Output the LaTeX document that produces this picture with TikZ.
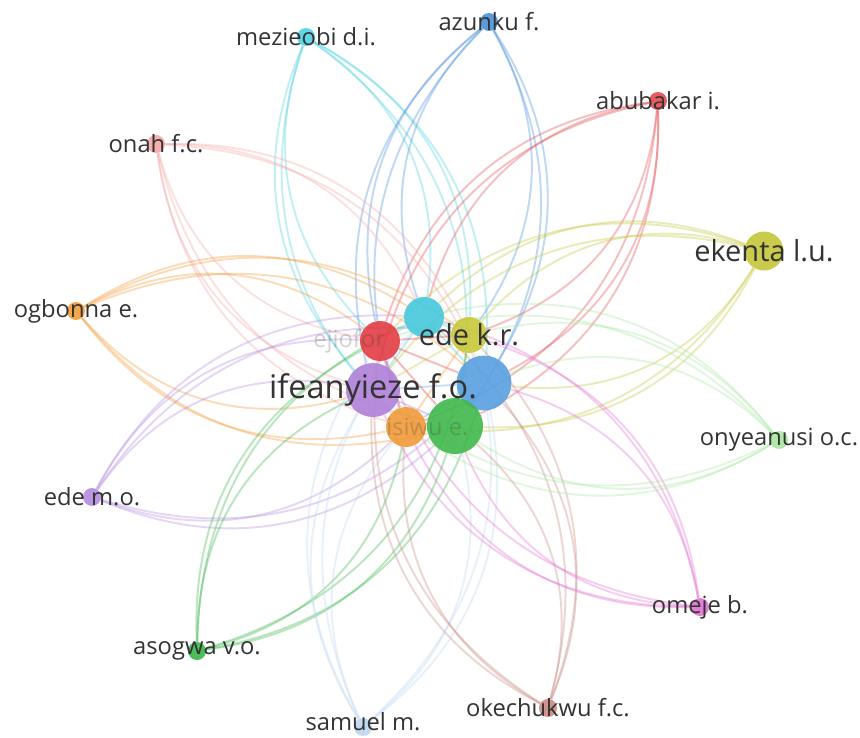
\documentclass[tikz,border=0pt]{standalone}
\usepackage{fontspec}
\setmainfont{Open Sans}
\usepackage{tikz}
\usetikzlibrary{positioning}
\pgfdeclarelayer{background}
\pgfsetlayers{background,main}
\definecolor{txtgray}{RGB}{51,51,51}
\definecolor{hcyan}{RGB}{70,200,220}
\definecolor{hred}{RGB}{226,60,66}
\definecolor{hyellow}{RGB}{200,200,58}
\definecolor{hblue}{RGB}{88,160,224}
\definecolor{hpurple}{RGB}{176,128,216}
\definecolor{horange}{RGB}{240,154,56}
\definecolor{hgreen}{RGB}{64,184,74}
\definecolor{cmez}{RGB}{80,208,224}
\definecolor{cazu}{RGB}{74,144,217}
\definecolor{cabu}{RGB}{227,74,79}
\definecolor{conah}{RGB}{244,166,166}
\definecolor{cogb}{RGB}{243,156,58}
\definecolor{cedem}{RGB}{180,139,224}
\definecolor{caso}{RGB}{58,181,74}
\definecolor{csam}{RGB}{190,214,240}
\definecolor{coke}{RGB}{200,138,128}
\definecolor{come}{RGB}{224,112,208}
\definecolor{conye}{RGB}{168,230,160}
\definecolor{cekenta}{RGB}{196,197,58}
\tikzset{author/.style = {circle, inner sep=0pt, minimum size=0.36cm, opacity=0.9},
         hub/.style = {circle, inner sep=0pt, opacity=0.9},
         link/.style = {line width=1.1pt, opacity=0.35},
         namelbl/.style = {text=txtgray, inner sep=0pt, font=\fontsize{13.5}{15}\selectfont},
         faintlbl/.style = {text=txtgray, opacity=0.22, inner sep=0pt, font=\fontsize{13.5}{15}\selectfont}}

\begin{document}
\begin{tikzpicture}[x=0.02cm, y=-0.02cm]
    \useasboundingbox (0,0) rectangle (860,738);

    % central authors
    \node [hub, fill=hcyan, minimum size=0.8cm] (hCy) at (424,317) {};
    \node [hub, fill=hred, minimum size=0.8cm] (hRd) at (380,341) {};
    \node [hub, fill=hyellow, minimum size=0.72cm] (hYl) at (469,335) {};
    \node [hub, fill=hblue, minimum size=1.1cm] (hBl) at (484,383) {};
    \node [hub, fill=hpurple, minimum size=1.08cm] (hPu) at (373,390) {};
    \node [hub, fill=horange, minimum size=0.8cm] (hOr) at (406,427) {};
    \node [hub, fill=hgreen, minimum size=1.12cm] (hGr) at (455,426) {};

    % outer authors
    \node [author, fill=cmez] (mez) at (306,37) {};
    \node [author, fill=cazu] (azu) at (489,22) {};
    \node [author, fill=cabu] (abu) at (658,101) {};
    \node [author, fill=conah] (onah) at (156,144) {};
    \node [author, fill=cekenta, minimum size=0.78cm] (eke) at (764,251) {};
    \node [author, fill=cogb] (ogb) at (76,311) {};
    \node [author, fill=cedem] (edem) at (92,497) {};
    \node [author, fill=caso] (aso) at (197,651) {};
    \node [author, fill=csam] (sam) at (363,727) {};
    \node [author, fill=coke] (oke) at (548,708) {};
    \node [author, fill=come] (ome) at (700,607) {};
    \node [author, fill=conye] (onye) at (779,440) {};

    % links, bent away from the axis of each petal
    \begin{pgfonlayer}{background}
    \foreach \p/\px/\py/\pc in {mez/306/37/cmez, azu/489/22/cazu, abu/658/101/cabu,
                                onah/156/144/conah, eke/764/251/cekenta, ogb/76/311/cogb,
                                edem/92/497/cedem, aso/197/651/caso, sam/363/727/csam,
                                oke/548/708/coke, ome/700/607/come, onye/779/440/conye} {
      \foreach \h/\hx/\hy in {hCy/424/317, hRd/380/341, hYl/469/335, hBl/484/383,
                              hPu/373/390, hOr/406/427, hGr/455/426} {
        \pgfmathsetmacro\crs{((430-\px)/100)*((\hy-\py)/100)-((375-\py)/100)*((\hx-\px)/100)}
        \pgfmathsetmacro\bnd{\crs>0 ? -32 : 32}
        \draw [link, \pc] (\p) to [bend left=\bnd] (\h);
      }
    }
    \foreach \a/\b/\lc in {hCy/hRd/hcyan, hCy/hYl/hcyan, hCy/hBl/hcyan, hCy/hPu/hcyan,
                           hRd/hYl/hred, hRd/hBl/hred, hRd/hOr/hred, hRd/hGr/hred,
                           hYl/hPu/hyellow, hYl/hGr/hyellow, hBl/hPu/hblue, hBl/hOr/hblue,
                           hPu/hGr/hpurple, hOr/hGr/horange, hOr/hYl/horange} {
      \draw [link, \lc] (\a) -- (\b);
    }
    \end{pgfonlayer}

    % labels
    \node [namelbl] (mezL) at (mez) {mezieobi d.i.};
    \node [namelbl] (azuL) at (azu) {azunku f.};
    \node [namelbl] (abuL) at (abu) {abubakar i.};
    \node [namelbl] (onahL) at (onah) {onah f.c.};
    \node [namelbl, font=\fontsize{16.5}{18}\selectfont] (ekeL) at (eke) {ekenta l.u.};
    \node [namelbl] (ogbL) at (ogb) {ogbonna e.};
    \node [namelbl] (edemL) at (edem) {ede m.o.};
    \node [namelbl] (asoL) at (aso) {asogwa v.o.};
    \node [namelbl] (samL) at (363,722) {samuel m.};
    \node [namelbl] (okeL) at (oke) {okechukwu f.c.};
    \node [namelbl] (omeL) at (ome) {omeje b.};
    \node [namelbl] (onyeL) at (onye) {onyeanusi o.c.};
    \node [namelbl, font=\fontsize{16.5}{18}\selectfont] (hYlL) at (hYl) {ede k.r.};
    \node [namelbl, font=\fontsize{18.5}{20}\selectfont] (hPuL) at (hPu) {ifeanyieze f.o.};
    \node [faintlbl, anchor=west] (hRdL) at (313,341) {ejiofor};
    \node [faintlbl, anchor=west] (hOrL) at (386,427) {isiwu e.};
\end{tikzpicture}
\end{document}
